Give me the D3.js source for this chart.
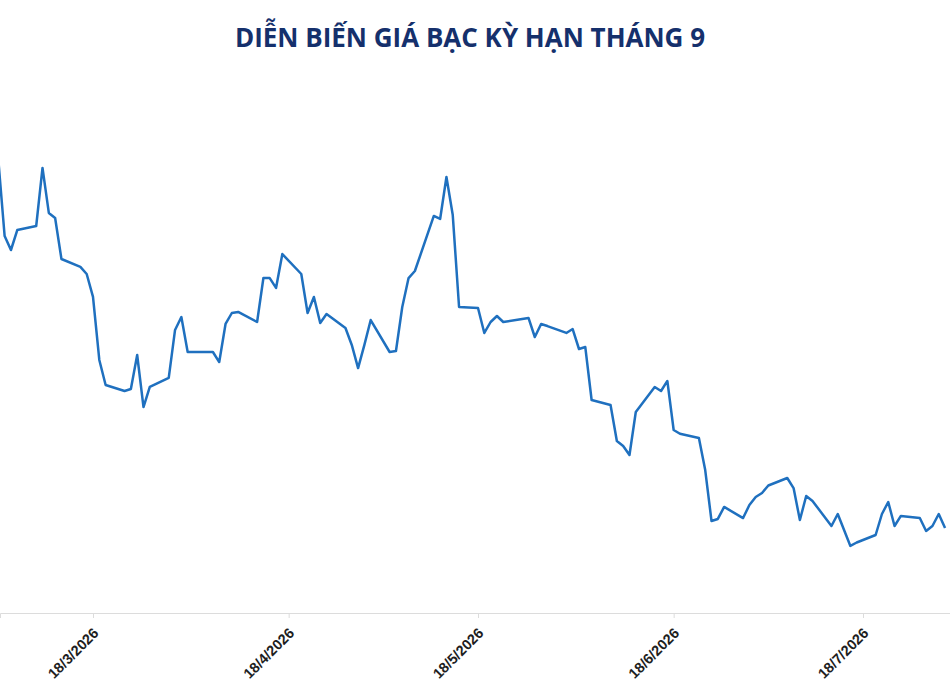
<!DOCTYPE html>
<html>
<head>
<meta charset="utf-8">
<script src="https://cdn.jsdelivr.net/npm/d3@7"></script>
<style>
  body { margin: 0; background: #fff; }
  svg { display: block; }
</style>
</head>
<body>
<div class="chart"></div>
<script>
// giá bạc kỳ hạn tháng 9 (USD/oz), ngày giao dịch
const dates = [
  "3/3/2026","4/3/2026","5/3/2026","6/3/2026","9/3/2026","10/3/2026","11/3/2026","12/3/2026","13/3/2026",
  "16/3/2026","17/3/2026","18/3/2026","19/3/2026","20/3/2026","23/3/2026","24/3/2026","25/3/2026","26/3/2026","27/3/2026",
  "30/3/2026","31/3/2026","1/4/2026","2/4/2026","6/4/2026","7/4/2026","8/4/2026","9/4/2026","10/4/2026",
  "13/4/2026","14/4/2026","15/4/2026","16/4/2026","17/4/2026","20/4/2026","21/4/2026","22/4/2026","23/4/2026","24/4/2026",
  "27/4/2026","28/4/2026","29/4/2026","30/4/2026","1/5/2026","4/5/2026","5/5/2026","6/5/2026","7/5/2026","8/5/2026",
  "11/5/2026","12/5/2026","13/5/2026","14/5/2026","15/5/2026","18/5/2026","19/5/2026","20/5/2026","21/5/2026","22/5/2026",
  "25/5/2026","26/5/2026","27/5/2026","28/5/2026","29/5/2026","1/6/2026","2/6/2026","3/6/2026","4/6/2026","5/6/2026",
  "8/6/2026","9/6/2026","10/6/2026","11/6/2026","12/6/2026","15/6/2026","16/6/2026","17/6/2026","18/6/2026","19/6/2026",
  "22/6/2026","23/6/2026","24/6/2026","25/6/2026","26/6/2026","29/6/2026","30/6/2026","1/7/2026","2/7/2026","3/7/2026",
  "6/7/2026","7/7/2026","8/7/2026","9/7/2026","10/7/2026","13/7/2026","14/7/2026","15/7/2026","16/7/2026","17/7/2026",
  "20/7/2026","21/7/2026","22/7/2026","23/7/2026","24/7/2026","27/7/2026","28/7/2026","29/7/2026","30/7/2026","31/7/2026"
];
const prices = [
  90.20, 85.13, 84.20, 85.53, 85.80, 89.67, 86.67, 86.33, 83.60,
  83.07, 82.60, 81.07, 76.87, 75.20, 74.80, 74.93, 77.20, 73.73, 75.07,
  75.67, 78.87, 79.73, 77.40, 77.40, 76.73, 79.27, 80.00, 80.07,
  79.40, 82.33, 82.33, 81.67, 83.93, 82.60, 80.00, 81.07, 79.33, 79.93,
  79.00, 77.87, 76.33, 77.87, 79.53, 77.40, 77.47, 80.40, 82.33, 82.80,
  86.47, 86.27, 89.07, 86.53, 80.40, 80.33, 78.67, 79.40, 79.80, 79.40,
  79.60, 79.67, 78.40, 79.27, 79.13, 78.67, 78.93, 77.60, 77.73, 74.20,
  73.87, 71.47, 71.13, 70.53, 73.40, 75.07, 74.80, 75.47, 72.20, 71.95,
  71.67, 69.53, 66.13, 66.27, 67.07, 66.33, 67.20, 67.73, 68.00, 68.50,
  69.00, 68.33, 66.20, 67.80, 67.47, 65.80, 66.60, 65.53, 64.47, 64.70,
  65.20, 66.60, 67.40, 65.80, 66.47, 66.33, 65.47, 65.80, 66.60, 65.67
];
const tickLabels = ["18/3/2026","18/4/2026","18/5/2026","18/6/2026","18/7/2026"];
const title = "DIỄN BIẾN GIÁ BẠC KỲ HẠN THÁNG 9";

const width = 950;
const height = 700;
const axisY = 613;

const parse = d3.timeParse("%d/%m/%Y");
const data = dates.map((d, i) => ({ date: parse(d), price: prices[i] }));
const ticks = tickLabels.map(parse);

// the plot is cropped at both sides: anchor two ticks, then stretch to the full width
const x = d3.scaleTime()
  .domain([ticks[0], ticks[ticks.length - 1]])
  .range([93, 863]);
x.domain([x.invert(0), x.invert(width)]).range([0, width]);

const y = d3.scaleLinear()
  .domain([60, 92])
  .range([axisY, 133]);

const svg = d3.select('.chart')
  .append('svg')
  .attr('width', width)
  .attr('height', height);

svg.append('text')
  .attr('x', 470)
  .attr('y', 47)
  .attr('text-anchor', 'middle')
  .attr('font-family', '"Open Sans", "Noto Sans", sans-serif')
  .attr('font-weight', 700)
  .attr('font-size', 26)
  .attr('fill', '#15306c')
  .text(title);

const xAxis = svg.append('g')
  .attr('transform', `translate(0,${axisY})`)
  .call(d3.axisBottom(x)
    .tickValues(ticks)
    .tickSizeOuter(0)
    .tickSize(5)
    .tickFormat(d3.timeFormat("%-d/%-m/%Y")));

xAxis.select('.domain').attr('stroke', '#dcdcdc');
xAxis.selectAll('.tick line').attr('stroke', '#dcdcdc');
xAxis.selectAll('.tick text')
  .attr('x', 0)
  .attr('y', 0)
  .attr('dy', 0)
  .attr('font-family', '"Liberation Sans", Arial, sans-serif')
  .attr('font-weight', 700)
  .attr('font-size', 14.5)
  .attr('fill', '#1e1e1e')
  .attr('text-anchor', 'end')
  .attr('transform', 'translate(6,21) rotate(-45)');

const line = d3.line()
  .x(d => x(d.date))
  .y(d => y(d.price));

svg.append('path')
  .datum(data)
  .attr('fill', 'none')
  .attr('stroke', '#1f70bf')
  .attr('stroke-width', 2.5)
  .attr('stroke-linejoin', 'round')
  .attr('d', line);
</script>
</body>
</html>
